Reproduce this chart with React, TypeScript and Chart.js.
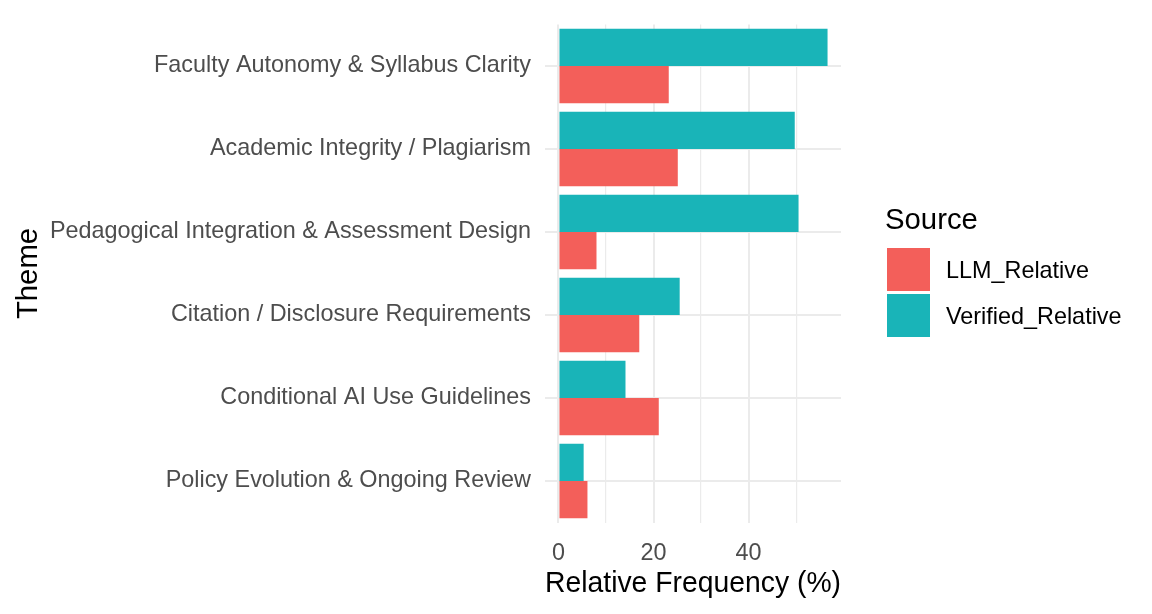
import { useEffect, useRef } from "react";
import Chart from "chart.js/auto";

const themes = [
  "Faculty Autonomy & Syllabus Clarity",
  "Academic Integrity / Plagiarism",
  "Pedagogical Integration & Assessment Design",
  "Citation / Disclosure Requirements",
  "Conditional AI Use Guidelines",
  "Policy Evolution & Ongoing Review",
];
const verifiedRelative = [56.6, 49.7, 50.5, 25.5, 14.1, 5.3];
const llmRelative = [23.2, 25.1, 8.0, 17.0, 21.1, 6.1];
const xTicks = [0, 10, 20, 30, 40, 50];
const xLabelled = [0, 20, 40];

const RED = "#F35F5A";
const TEAL = "#19B4B8";
const FONT = "'Liberation Sans', Arial, sans-serif";

export default function App() {
  const ref = useRef<HTMLCanvasElement | null>(null);
  useEffect(() => {
    document.body.style.margin = "0";
    if (!ref.current) return;
    const ch = new Chart(ref.current, {
      type: "bar",
      data: {
        labels: themes,
        datasets: [
          { label: "Verified_Relative", data: verifiedRelative, backgroundColor: TEAL },
          { label: "LLM_Relative", data: llmRelative, backgroundColor: RED },
        ],
      },
      options: {
        indexAxis: "y",
        animation: false,
        responsive: false,
        devicePixelRatio: 1,
        layout: { padding: { top: 24.5, right: 311, left: 0, bottom: 0 } },
        datasets: { bar: { categoryPercentage: 0.9, barPercentage: 1.0 } },
        plugins: { legend: { display: false }, tooltip: { enabled: false } },
        scales: {
          x: {
            type: "linear",
            min: -2.83,
            max: 59.43,
            afterFit: (s: any) => { s.height = 91.5; },
            afterBuildTicks: (s: any) => { s.ticks = xTicks.map((v) => ({ value: v })); },
            border: { display: false },
            grid: {
              color: "#EBEBEB",
              lineWidth: (c: any) => (xLabelled.includes(c.tick?.value) ? 2 : 1.2),
              drawTicks: false,
            },
            ticks: {
              padding: 17,
              color: "#4D4D4D",
              font: { family: FONT, size: 23.4 },
              callback: (v: any) => (xLabelled.includes(Number(v)) ? String(v) : ""),
            },
            title: {
              display: true,
              text: "Relative Frequency (%)",
              color: "#000",
              font: { family: FONT, size: 29.3 },
              padding: { top: 0, bottom: 13 },
            },
          },
          y: {
            type: "category",
            offset: true,
            afterFit: (s: any) => {
              s.width = 545;
              s.paddingTop = 0;
              s.paddingBottom = 0;
            },
            border: { display: false },
            grid: { color: "#EBEBEB", lineWidth: 2, offset: false, drawTicks: false },
            ticks: {
              padding: 14,
              color: "#4D4D4D",
              font: { family: FONT, size: 23.4 },
            },
            title: {
              display: true,
              text: "Theme",
              color: "#000",
              font: { family: FONT, size: 29.3 },
              padding: { top: 11, bottom: 0 },
            },
          },
        },
      },
    });
    return () => ch.destroy();
  }, []);

  const legendItems = [
    { label: "LLM_Relative", color: RED, box: 248, text: 259.2 },
    { label: "Verified_Relative", color: TEAL, box: 294, text: 305.2 },
  ];

  return (
    <div style={{ position: "relative", width: 1152, height: 614, fontFamily: FONT }}>
      <canvas ref={ref} width={1152} height={614}></canvas>
      <div style={{ position: "absolute", left: 885, top: 204.2, fontSize: 29.3, lineHeight: "29.3px", color: "#000" }}>
        Source
      </div>
      {legendItems.map((it) => (
        <div key={it.label}>
          <div style={{ position: "absolute", left: 887, top: it.box, width: 43, height: 43, background: it.color }} />
          <div style={{ position: "absolute", left: 946, top: it.text, fontSize: 23.4, lineHeight: "23.4px", color: "#000", whiteSpace: "nowrap" }}>
            {it.label}
          </div>
        </div>
      ))}
    </div>
  );
}
